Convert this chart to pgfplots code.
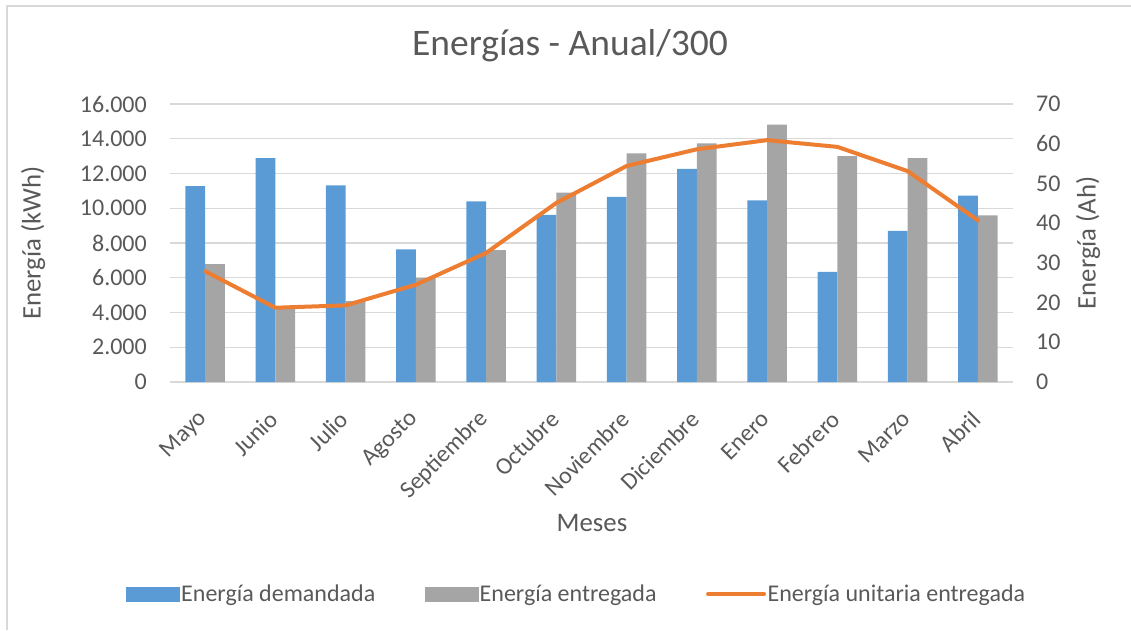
\documentclass[border=0pt]{standalone}
\usepackage{fontspec}
\setmainfont{Carlito}
\usepackage{pgfplots}
\pgfplotsset{compat=1.18}

\definecolor{demblue}{HTML}{5B9BD5}
\definecolor{entgray}{HTML}{A5A5A5}
\definecolor{unitorange}{HTML}{ED7D31}
\definecolor{txt}{HTML}{595959}
\definecolor{gridc}{HTML}{D9D9D9}

% Monthly energy: demanded and delivered (kWh), unit delivered energy (Ah)
\pgfplotstableread{
idx demandada entregada unitaria
0  11280  6780  27.9
1  12890  4300  18.7
2  11310  4650  19.3
3   7630  6000  24.5
4  10390  7590  32.5
5   9620 10900  45.1
6  10660 13160  54.4
7  12270 13730  58.6
8  10450 14810  60.9
9   6340 13000  59.2
10  8700 12890  53.1
11 10720  9590  40.7
}\energias

\newcommand{\tickfont}{\fontsize{24}{28}\selectfont}
\newcommand{\labfont}{\fontsize{26.8}{30}\selectfont}

\pgfplotsset{
  common/.style={
    at={(170pt,248pt)}, anchor=south west,
    scale only axis, width=843pt, height=278pt,
    xmin=-0.5, xmax=11.5, ymin=0,
    axis line style={draw=none},
    tick style={draw=none},
    /pgf/number format/assume math mode=true,
    ticklabel style={font=\tickfont, text=txt},
    label style={font=\labfont, text=txt},
  },
}

\begin{document}
\begin{tikzpicture}
\path[use as bounding box] (0pt,0pt) rectangle (1131pt,630pt);
\draw[gridc, line width=1.3pt] (7pt,0pt) -- (7pt,624pt) -- (1131pt,624pt);

\begin{axis}[common,
  ymax=16000,
  ytick={0,2000,...,16000},
  scaled y ticks=false,
  yticklabel style={/pgf/number format/1000 sep={.}, anchor=east, inner sep=0pt, xshift=-23pt},
  ymajorgrids, grid style={gridc, line width=1.3pt},
  xtick={0,...,11},
  xticklabels={Mayo,Junio,Julio,Agosto,Septiembre,Octubre,Noviembre,Diciembre,Enero,Febrero,Marzo,Abril},
  xticklabel style={xshift=-1.5pt, yshift=-29pt, rotate=45, anchor=east, inner sep=0pt},
  ybar=0pt, bar width=19.7pt,
  ylabel={Energía (kWh)},
  ylabel style={at={(axis description cs:-0.1625,0.5)}, anchor=center},
  xlabel={Meses},
  xlabel style={at={(axis description cs:0.5006,-0.507)}, anchor=center},
  title={Energías - Anual/300},
  title style={at={(axis description cs:0.4745,1.187)}, anchor=center, font=\fontsize{37.5}{40}\selectfont, text=txt},
]
\addplot[fill=demblue, draw=none] table[x=idx, y=demandada] {\energias};
\addplot[fill=entgray, draw=none] table[x=idx, y=entregada] {\energias};
\end{axis}

\begin{axis}[common,
  ymax=70,
  axis x line=none,
  axis y line*=right,
  axis line style={draw=none},
  ytick={0,10,...,70},
  yticklabel style={anchor=west, inner sep=0pt, xshift=23pt},
  ylabel={Energía (Ah)},
  ylabel style={at={(axis description cs:1.089,0.5)}, anchor=center, rotate=0},
  legend columns=3,
  legend style={draw=none, fill=none, at={(0.4822,-0.7626)}, anchor=center,
    font=\tickfont, text=txt, inner sep=0pt,
    nodes={inner sep=1.5pt},
    /tikz/every even column/.append style={column sep=48pt}},
]
\addlegendimage{legend image code/.code={\fill[demblue] (0pt,-7pt) rectangle (53pt,7pt);}}
\addlegendentry{Energía demandada}
\addlegendimage{legend image code/.code={\fill[entgray] (0pt,-7pt) rectangle (53pt,7pt);}}
\addlegendentry{Energía entregada}
\addplot[unitorange, line width=4pt, line join=round, line cap=round,
  legend image code/.code={\draw[unitorange, line width=4pt, line cap=round] (0pt,0pt) -- (56pt,0pt);}]
  table[x=idx, y=unitaria] {\energias};
\addlegendentry{Energía unitaria entregada}
\end{axis}
\end{tikzpicture}
\end{document}
